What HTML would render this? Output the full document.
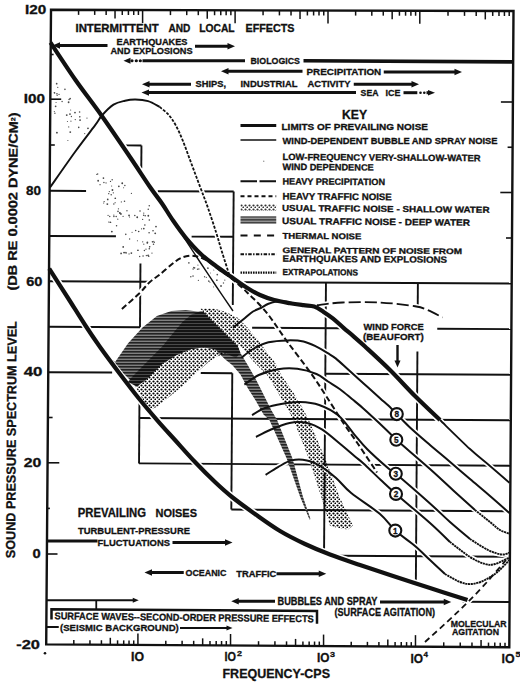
<!DOCTYPE html>
<html><head><meta charset="utf-8"><style>
html,body{margin:0;padding:0;background:#fff;}
svg{display:block;}
text{font-family:"Liberation Sans",sans-serif;font-weight:bold;fill:#111;stroke:#111;stroke-width:0.3px;}
</style></head><body>
<svg width="520" height="687" viewBox="0 0 520 687">
<defs>
<pattern id="stip" patternUnits="userSpaceOnUse" width="4" height="4"><circle cx="1.5" cy="1.5" r="1.1" fill="#000"/><circle cx="3.5" cy="3.5" r="1.1" fill="#000"/></pattern>
<pattern id="hatch" patternUnits="userSpaceOnUse" width="4" height="3"><rect width="4" height="3" fill="#808080"/><rect width="4" height="1.6" fill="#222"/></pattern>
<pattern id="blk" patternUnits="userSpaceOnUse" width="4" height="3"><rect width="4" height="3" fill="#141414"/><rect width="4" height="1" y="2" fill="#4a4a4a"/></pattern>
</defs>
<rect width="520" height="687" fill="#fff"/>
<circle cx="64.95" cy="89.35" r="0.81" fill="#4a4a4a"/>
<circle cx="54.9" cy="113.22" r="0.7" fill="#4a4a4a"/>
<circle cx="54.32" cy="111.46" r="0.56" fill="#4a4a4a"/>
<circle cx="55.63" cy="106.32" r="0.88" fill="#4a4a4a"/>
<circle cx="56.95" cy="93.84" r="0.8" fill="#4a4a4a"/>
<circle cx="67.87" cy="140.53" r="0.57" fill="#4a4a4a"/>
<circle cx="57.77" cy="87.3" r="0.67" fill="#4a4a4a"/>
<circle cx="75.26" cy="119.61" r="0.7" fill="#4a4a4a"/>
<circle cx="54.38" cy="92.77" r="0.82" fill="#4a4a4a"/>
<circle cx="69.1" cy="99.48" r="0.78" fill="#4a4a4a"/>
<circle cx="70.13" cy="98.59" r="0.87" fill="#4a4a4a"/>
<circle cx="74.98" cy="112.56" r="0.9" fill="#4a4a4a"/>
<circle cx="68.72" cy="126.94" r="0.61" fill="#4a4a4a"/>
<circle cx="78.73" cy="127.4" r="0.78" fill="#4a4a4a"/>
<circle cx="79.81" cy="116.85" r="0.78" fill="#4a4a4a"/>
<circle cx="70.25" cy="132.08" r="0.93" fill="#4a4a4a"/>
<circle cx="70.96" cy="121.18" r="0.57" fill="#4a4a4a"/>
<circle cx="80.06" cy="120.12" r="0.95" fill="#4a4a4a"/>
<circle cx="67.43" cy="121.46" r="0.56" fill="#4a4a4a"/>
<circle cx="56.68" cy="83.66" r="0.86" fill="#4a4a4a"/>
<circle cx="57.17" cy="95.35" r="0.71" fill="#4a4a4a"/>
<circle cx="69.97" cy="114.07" r="0.9" fill="#4a4a4a"/>
<circle cx="84.77" cy="133.57" r="0.66" fill="#4a4a4a"/>
<circle cx="68.61" cy="102.24" r="0.9" fill="#4a4a4a"/>
<circle cx="59.05" cy="94.38" r="0.64" fill="#4a4a4a"/>
<circle cx="71.4" cy="116.53" r="0.66" fill="#4a4a4a"/>
<circle cx="66.77" cy="115.11" r="0.93" fill="#4a4a4a"/>
<circle cx="79.62" cy="111.96" r="0.8" fill="#4a4a4a"/>
<circle cx="87.98" cy="128.36" r="0.9" fill="#4a4a4a"/>
<circle cx="54.69" cy="92.94" r="0.61" fill="#4a4a4a"/>
<circle cx="56.06" cy="102.54" r="0.56" fill="#4a4a4a"/>
<circle cx="86.97" cy="118.07" r="0.61" fill="#4a4a4a"/>
<circle cx="62.09" cy="101.54" r="0.7" fill="#4a4a4a"/>
<circle cx="56.91" cy="132.63" r="0.95" fill="#4a4a4a"/>
<circle cx="70.64" cy="110" r="0.58" fill="#4a4a4a"/>
<circle cx="118.84" cy="186.37" r="0.86" fill="#444"/>
<circle cx="129.62" cy="239" r="0.68" fill="#444"/>
<circle cx="147.4" cy="242.38" r="0.85" fill="#444"/>
<circle cx="109.74" cy="216.52" r="0.69" fill="#444"/>
<circle cx="96.88" cy="174.4" r="0.66" fill="#444"/>
<circle cx="111.85" cy="231.56" r="0.93" fill="#444"/>
<circle cx="124.07" cy="252.58" r="0.95" fill="#444"/>
<circle cx="109.33" cy="191.51" r="0.63" fill="#444"/>
<circle cx="153.52" cy="244.28" r="0.74" fill="#444"/>
<circle cx="137.44" cy="240.77" r="0.58" fill="#444"/>
<circle cx="137.94" cy="250.24" r="0.86" fill="#444"/>
<circle cx="143.76" cy="213.11" r="0.62" fill="#444"/>
<circle cx="147.05" cy="255.56" r="0.71" fill="#444"/>
<circle cx="121.09" cy="253.42" r="0.84" fill="#444"/>
<circle cx="106.05" cy="182.93" r="0.61" fill="#444"/>
<circle cx="153.82" cy="241.36" r="0.61" fill="#444"/>
<circle cx="148.72" cy="256.31" r="0.81" fill="#444"/>
<circle cx="117.78" cy="219.18" r="0.6" fill="#444"/>
<circle cx="137.23" cy="217.29" r="0.92" fill="#444"/>
<circle cx="123.2" cy="246.97" r="0.88" fill="#444"/>
<circle cx="108.72" cy="193.66" r="0.67" fill="#444"/>
<circle cx="110.64" cy="222.43" r="0.65" fill="#444"/>
<circle cx="122.24" cy="183.27" r="0.91" fill="#444"/>
<circle cx="118" cy="211.4" r="0.78" fill="#444"/>
<circle cx="129.57" cy="217.02" r="0.56" fill="#444"/>
<circle cx="123.61" cy="187.75" r="0.55" fill="#444"/>
<circle cx="125.78" cy="234.37" r="0.77" fill="#444"/>
<circle cx="116.19" cy="216.58" r="0.77" fill="#444"/>
<circle cx="131.42" cy="193.37" r="0.66" fill="#444"/>
<circle cx="145.2" cy="215.66" r="0.77" fill="#444"/>
<circle cx="144.4" cy="250.47" r="0.73" fill="#444"/>
<circle cx="134.81" cy="215.48" r="0.75" fill="#444"/>
<circle cx="140.03" cy="210.9" r="0.76" fill="#444"/>
<circle cx="126.07" cy="252.97" r="0.83" fill="#444"/>
<circle cx="151.97" cy="253.03" r="0.65" fill="#444"/>
<circle cx="131.37" cy="253.12" r="0.89" fill="#444"/>
<circle cx="103.91" cy="182.46" r="0.73" fill="#444"/>
<circle cx="145.96" cy="249.14" r="0.61" fill="#444"/>
<circle cx="141.55" cy="228.78" r="0.61" fill="#444"/>
<circle cx="120.89" cy="213.9" r="0.95" fill="#444"/>
<circle cx="123.05" cy="216.34" r="0.69" fill="#444"/>
<circle cx="107.72" cy="199.39" r="0.84" fill="#444"/>
<circle cx="116.55" cy="225.66" r="0.75" fill="#444"/>
<circle cx="146.24" cy="255.57" r="0.59" fill="#444"/>
<circle cx="154.24" cy="242.43" r="0.65" fill="#444"/>
<circle cx="132.09" cy="232.24" r="0.59" fill="#444"/>
<circle cx="155.99" cy="226.56" r="0.87" fill="#444"/>
<circle cx="124.5" cy="201.17" r="0.77" fill="#444"/>
<circle cx="110.5" cy="181.41" r="0.61" fill="#444"/>
<circle cx="115.28" cy="198.23" r="0.85" fill="#444"/>
<circle cx="113.85" cy="215.01" r="0.62" fill="#444"/>
<circle cx="142.65" cy="219.39" r="0.63" fill="#444"/>
<circle cx="125.86" cy="252.38" r="0.59" fill="#444"/>
<circle cx="148.23" cy="209.17" r="0.75" fill="#444"/>
<circle cx="149.25" cy="205.81" r="0.75" fill="#444"/>
<circle cx="139.7" cy="256.49" r="0.69" fill="#444"/>
<circle cx="149.1" cy="232.78" r="0.8" fill="#444"/>
<circle cx="121.31" cy="201.89" r="0.57" fill="#444"/>
<circle cx="103.44" cy="178.08" r="0.85" fill="#444"/>
<circle cx="111.61" cy="186.04" r="0.58" fill="#444"/>
<circle cx="149.68" cy="246.87" r="0.82" fill="#444"/>
<circle cx="113.33" cy="192.83" r="0.67" fill="#444"/>
<circle cx="124.86" cy="185.55" r="0.73" fill="#444"/>
<circle cx="115.12" cy="202.67" r="0.55" fill="#444"/>
<circle cx="119.81" cy="212.82" r="0.75" fill="#444"/>
<circle cx="108.06" cy="215.41" r="0.55" fill="#444"/>
<circle cx="112.17" cy="179.72" r="0.71" fill="#444"/>
<circle cx="97.71" cy="173.93" r="0.67" fill="#444"/>
<circle cx="110.13" cy="222.36" r="0.76" fill="#444"/>
<circle cx="143.79" cy="228.55" r="0.84" fill="#444"/>
<circle cx="149.29" cy="248.71" r="0.8" fill="#444"/>
<circle cx="142.7" cy="241.85" r="0.61" fill="#444"/>
<circle cx="129.04" cy="215.38" r="0.88" fill="#444"/>
<circle cx="147.3" cy="243.07" r="0.78" fill="#444"/>
<circle cx="153.03" cy="230.73" r="0.83" fill="#444"/>
<circle cx="103.65" cy="203.02" r="0.59" fill="#444"/>
<circle cx="149.33" cy="220.03" r="0.8" fill="#444"/>
<circle cx="135.7" cy="230.54" r="0.75" fill="#444"/>
<circle cx="143.64" cy="215.26" r="0.76" fill="#444"/>
<circle cx="143.09" cy="255.91" r="0.75" fill="#444"/>
<circle cx="119.87" cy="213.19" r="0.82" fill="#444"/>
<circle cx="144.85" cy="225.06" r="0.81" fill="#444"/>
<circle cx="100.04" cy="184.68" r="0.65" fill="#444"/>
<circle cx="138.68" cy="231.53" r="0.82" fill="#444"/>
<circle cx="113.91" cy="216.42" r="0.74" fill="#444"/>
<circle cx="148.29" cy="255.26" r="0.73" fill="#444"/>
<circle cx="112.46" cy="190.05" r="0.93" fill="#444"/>
<circle cx="108.7" cy="222.01" r="0.61" fill="#444"/>
<circle cx="129.06" cy="253.94" r="0.6" fill="#444"/>
<circle cx="148.31" cy="215.75" r="0.9" fill="#444"/>
<circle cx="126.96" cy="210.77" r="0.67" fill="#444"/>
<circle cx="104.15" cy="201.58" r="0.68" fill="#444"/>
<circle cx="143.8" cy="244.16" r="0.6" fill="#444"/>
<circle cx="155.22" cy="233.32" r="0.91" fill="#444"/>
<circle cx="113.84" cy="204.01" r="0.71" fill="#444"/>
<circle cx="118.45" cy="208.81" r="0.66" fill="#444"/>
<circle cx="98.14" cy="180.75" r="0.88" fill="#444"/>
<circle cx="111.21" cy="194.85" r="0.75" fill="#444"/>
<circle cx="107.34" cy="204.11" r="0.93" fill="#444"/>
<circle cx="152.48" cy="241.83" r="0.8" fill="#444"/>
<circle cx="209.97" cy="282.15" r="0.57" fill="#555"/>
<circle cx="217.29" cy="274.62" r="0.85" fill="#555"/>
<circle cx="213.78" cy="270.01" r="0.57" fill="#555"/>
<circle cx="206.89" cy="271.62" r="0.67" fill="#555"/>
<circle cx="198.41" cy="280.37" r="0.67" fill="#555"/>
<circle cx="210.29" cy="273.04" r="0.62" fill="#555"/>
<circle cx="194.47" cy="267.82" r="0.91" fill="#555"/>
<circle cx="207.88" cy="268.16" r="0.91" fill="#555"/>
<circle cx="193.58" cy="267.39" r="0.59" fill="#555"/>
<circle cx="197.57" cy="269.23" r="0.78" fill="#555"/>
<circle cx="223.49" cy="282.99" r="0.72" fill="#555"/>
<circle cx="204.56" cy="276.68" r="0.7" fill="#555"/>
<circle cx="193.03" cy="276.1" r="0.8" fill="#555"/>
<circle cx="198.84" cy="268.96" r="0.71" fill="#555"/>
<circle cx="188.87" cy="262.9" r="0.83" fill="#555"/>
<circle cx="221.02" cy="285.95" r="0.94" fill="#555"/>
<circle cx="197.94" cy="265.05" r="0.61" fill="#555"/>
<circle cx="208.89" cy="281.1" r="0.93" fill="#555"/>
<circle cx="216.87" cy="280.13" r="0.86" fill="#555"/>
<circle cx="206.29" cy="277.44" r="0.57" fill="#555"/>
<circle cx="224.8" cy="280.07" r="0.67" fill="#555"/>
<circle cx="193.12" cy="269.05" r="0.8" fill="#555"/>
<circle cx="190.81" cy="276.68" r="0.78" fill="#555"/>
<circle cx="203.52" cy="268.26" r="0.79" fill="#555"/>
<circle cx="213.78" cy="286.75" r="0.74" fill="#555"/>
<line x1="125.42" y1="145.37" x2="141.46" y2="145.45" stroke="#111" stroke-width="1.9" />
<line x1="141.27" y1="168.3" x2="141.46" y2="145.45" stroke="#111" stroke-width="1.9" />
<line x1="49.4" y1="190.8" x2="86.07" y2="190.94" stroke="#111" stroke-width="1.9" />
<line x1="157.74" y1="191.2" x2="233.66" y2="191.48" stroke="#111" stroke-width="1.9" />
<line x1="49" y1="236" x2="115.94" y2="236.29" stroke="#111" stroke-width="1.9" />
<line x1="191.63" y1="236.62" x2="233.3" y2="236.8" stroke="#111" stroke-width="1.9" />
<line x1="48.6" y1="281.2" x2="148.66" y2="281.7" stroke="#111" stroke-width="1.9" />
<line x1="232.94" y1="282.12" x2="511.7" y2="283.5" stroke="#111" stroke-width="1.9" />
<line x1="48.25" y1="326.7" x2="139.98" y2="327.19" stroke="#111" stroke-width="1.9" />
<line x1="252.15" y1="327.78" x2="340.35" y2="328.25" stroke="#111" stroke-width="1.9" />
<line x1="437.27" y1="328.76" x2="511.4" y2="329.15" stroke="#111" stroke-width="1.9" />
<line x1="47.9" y1="372.2" x2="112.12" y2="372.56" stroke="#111" stroke-width="1.9" />
<line x1="200.78" y1="373.06" x2="232.28" y2="373.24" stroke="#111" stroke-width="1.9" />
<line x1="325.32" y1="373.76" x2="511.1" y2="374.8" stroke="#111" stroke-width="1.9" />
<line x1="139.34" y1="418.06" x2="510.8" y2="420.3" stroke="#111" stroke-width="1.9" />
<line x1="139.04" y1="463.4" x2="510.5" y2="465.8" stroke="#111" stroke-width="1.9" />
<line x1="231.32" y1="509.56" x2="510.2" y2="511.3" stroke="#111" stroke-width="1.9" />
<line x1="337.84" y1="555.76" x2="509.9" y2="556.8" stroke="#111" stroke-width="1.9" />
<line x1="462.68" y1="601.72" x2="509.6" y2="602" stroke="#111" stroke-width="1.9" />
<line x1="139.98" y1="327.19" x2="140.47" y2="263.56" stroke="#111" stroke-width="1.9" />
<line x1="139.04" y1="463.4" x2="139.45" y2="402.19" stroke="#111" stroke-width="1.9" />
<line x1="232.78" y1="304.9" x2="233.66" y2="191.48" stroke="#111" stroke-width="1.9" />
<line x1="231.32" y1="509.56" x2="232.28" y2="373.24" stroke="#111" stroke-width="1.9" />
<line x1="324.07" y1="551.13" x2="325.96" y2="282.58" stroke="#111" stroke-width="1.9" />
<line x1="417.73" y1="305.85" x2="417.88" y2="283.04" stroke="#111" stroke-width="1.9" />
<line x1="415.86" y1="583.36" x2="417.42" y2="351.47" stroke="#111" stroke-width="1.9" />
<path d="M50.5,42.6 C54.67,48.83 67,67.85 75.5,80 C84,92.15 92.42,102.67 101.5,115.5 C110.58,128.33 121.92,145.08 130,157 C138.08,168.92 144.67,179.25 150,187 C155.33,194.75 158.17,197.92 162,203.5 C165.83,209.08 169.1,214.87 173,220.5 C176.9,226.13 180.77,231.72 185.4,237.3 C190.03,242.88 195.67,249.18 200.8,254 C205.93,258.82 211.08,262.37 216.2,266.2 C221.32,270.03 226.38,273.42 231.5,277 C236.62,280.58 242.15,284.7 246.9,287.7 C251.65,290.7 255.45,292.95 260,295 C264.55,297.05 269.2,298.63 274.2,300 C279.2,301.37 285.12,302.33 290,303.2 C294.88,304.07 299.47,304.65 303.5,305.2 C307.53,305.75 310.85,305.38 314.2,306.5 C317.55,307.62 320.45,309.88 323.6,311.9 C326.75,313.92 329.73,315.9 333.1,318.6 C336.47,321.3 340.43,325.18 343.8,328.1 C347.17,331.02 349.77,333.03 353.3,336.1 C356.83,339.17 358.88,340.85 365,346.5 C371.12,352.15 381.67,361.75 390,370 C398.33,378.25 406.67,387.67 415,396 C423.33,404.33 435.83,416 440,420" fill="none" stroke="#fff" stroke-width="7.4"/>
<path d="M440,420 C445,424.83 461.67,441.33 470,449 C478.33,456.67 483.43,460.38 490,466 C496.57,471.62 506.17,479.92 509.4,482.7" fill="none" stroke="#fff" stroke-width="5"/>
<path d="M49.2,268.7 C52.33,273.58 61.97,288.53 68,298 C74.03,307.47 80.07,317.33 85.4,325.5 C90.73,333.67 94.37,339.08 100,347 C105.63,354.92 112.78,364.5 119.2,373 C125.62,381.5 132.08,390.03 138.5,398 C144.92,405.97 151.62,413.8 157.7,420.8 C163.78,427.8 168.78,433.13 175,440 C181.22,446.87 188.33,455 195,462 C201.67,469 208.83,476.17 215,482 C221.17,487.83 225.33,491.67 232,497 C238.67,502.33 247,508.33 255,514 C263,519.67 271.67,526 280,531 C288.33,536 296.67,540.08 305,544 C313.33,547.92 320.83,551 330,554.5 C339.17,558 350,561.58 360,565 C370,568.42 378.33,571.17 390,575 C401.67,578.83 417.08,583.83 430,588 C442.92,592.17 461.25,598 467.5,600" fill="none" stroke="#fff" stroke-width="7.4"/>
<path d="M50,187.5 C54.17,181.58 67.5,162.35 75,152 C82.5,141.65 90.52,131.48 95,125.4 C99.48,119.32 98.82,118.97 101.9,115.5 C104.98,112.03 109.65,107.07 113.5,104.6 C117.35,102.13 121.35,101.55 125,100.7 C128.65,99.85 131.55,99.42 135.4,99.5 C139.25,99.58 144.07,99.97 148.1,101.2 C152.13,102.43 157.68,105.95 159.6,106.9" fill="none" stroke="#fff" stroke-width="5.1"/>
<path d="M159.6,106.9 C161.13,108.25 166.1,111.92 168.8,115 C171.5,118.08 173.48,121.17 175.8,125.4 C178.12,129.63 180.4,134.83 182.7,140.4 C185,145.97 187.3,152.65 189.6,158.8 C191.9,164.95 194.18,171.13 196.5,177.3 C198.82,183.47 201.58,190.68 203.5,195.8 C205.42,200.92 205.92,201.97 208,208 C210.08,214.03 213.67,224.67 216,232 C218.33,239.33 219.83,245 222,252 C224.17,259 227.83,270.33 229,274" fill="none" stroke="#fff" stroke-width="5"/>
<path d="M183,236 C185.83,240.33 194.5,253.67 200,262 C205.5,270.33 210.5,277.83 216,286 C221.5,294.17 230.17,306.83 233,311" fill="none" stroke="#fff" stroke-width="4.6"/>
<path d="M121.9,309 C124.78,306.42 134.58,297.97 139.2,293.5 C143.82,289.03 146.13,285.38 149.6,282.2 C153.07,279.02 156.25,277.43 160,274.4 C163.75,271.37 168.63,266.73 172.1,264 C175.57,261.27 177.92,259.38 180.8,258 C183.68,256.62 186.87,256 189.4,255.7 C191.93,255.4 193.73,255.73 196,256.2 C198.27,256.67 200.92,257.62 203,258.5 C205.08,259.38 206.3,260 208.5,261.5 C210.7,263 212.37,264.67 216.2,267.5 C220.03,270.33 226.9,274.88 231.5,278.5 C236.1,282.12 240.72,286.38 243.8,289.2 C246.88,292.02 247.63,293.1 250,295.4 C252.37,297.7 254.67,299.4 258,303 C261.33,306.6 265.05,310.45 270,317 C274.95,323.55 280.9,332.97 287.7,342.3 C294.5,351.63 304.38,364.02 310.8,373 C317.22,381.98 320.63,387.67 326.2,396.2 C331.77,404.73 338.95,416.32 344.2,424.2 C349.45,432.08 352.23,435.45 357.7,443.5 C363.17,451.55 373.78,467.67 377,472.5" fill="none" stroke="#fff" stroke-width="5.2"/>
<path d="M316.9,305.2 C321.17,304.75 331.98,302.95 342.5,302.5 C353.02,302.05 367.92,301.88 380,302.5 C392.08,303.12 407.08,305 415,306.25 C422.92,307.5 422.92,308.12 427.5,310 C432.08,311.88 440,316.25 442.5,317.5" fill="none" stroke="#fff" stroke-width="5"/>
<path d="M425,642 C428.67,638.67 440,628.5 447,622 C454,615.5 460.33,609.67 467,603 C473.67,596.33 480.5,589.17 487,582 C493.5,574.83 502.83,563.67 506,560" fill="none" stroke="#fff" stroke-width="5"/>
<path d="M233,327.7 C235,326.08 241.67,320.7 245,318 C248.33,315.3 250.37,313.17 253,311.5 C255.63,309.83 258.22,309.28 260.8,308 C263.38,306.72 265.3,304.97 268.5,303.8 C271.7,302.63 276.08,301.13 280,301 C283.92,300.87 290,302.67 292,303" fill="none" stroke="#fff" stroke-width="5.2"/>
<path d="M241.5,357.7 C243.42,356.25 248.5,351.57 253,349 C257.5,346.43 262.72,343.73 268.5,342.3 C274.28,340.87 281.87,340.53 287.7,340.4 C293.53,340.27 298.63,340.42 303.5,341.5 C308.37,342.58 312.87,344.95 316.9,346.9 C320.93,348.85 324.52,351.25 327.7,353.2 C330.88,355.15 332.5,355.8 336,358.6 C339.5,361.4 343.87,365.65 348.7,370 C353.53,374.35 359.78,380 365,384.7 C370.22,389.4 375.62,394.25 380,398.2 C384.38,402.15 388.5,405.75 391.3,408.4 C394.1,411.05 393.68,410.92 396.8,414.1 C399.92,417.28 404.47,422.35 410,427.5 C415.53,432.65 423.5,439.42 430,445 C436.5,450.58 442.33,455.33 449,461 C455.67,466.67 463.17,473.17 470,479 C476.83,484.83 483.43,490.33 490,496 C496.57,501.67 506.17,510.17 509.4,513" fill="none" stroke="#fff" stroke-width="5.2"/>
<path d="M244.4,384.6 C246.8,383 253.2,377.57 258.8,375 C264.4,372.43 271.58,370.23 278,369.2 C284.42,368.17 290.88,368 297.3,368.8 C303.72,369.6 311.38,371.88 316.5,374 C321.62,376.12 324.08,378.97 328,381.5 C331.92,384.03 336,386.28 340,389.2 C344,392.12 348.12,395.8 352,399 C355.88,402.2 359.13,404.73 363.3,408.4 C367.47,412.07 372.33,416.62 377,421 C381.67,425.38 388.08,431.57 391.3,434.7 C394.52,437.83 389.85,434.08 396.3,439.8 C402.75,445.52 420.22,460.3 430,469 C439.78,477.7 447.5,485.17 455,492 C462.5,498.83 471.67,507 475,510" fill="none" stroke="#fff" stroke-width="5.2"/>
<path d="M475,510 C477.5,512 485.83,518.67 490,522 C494.17,525.33 496.77,528.05 500,530 C503.23,531.95 507.83,533.08 509.4,533.7" fill="none" stroke="#fff" stroke-width="5.1"/>
<path d="M252,415 C254.17,413.83 259.92,409.88 265,408 C270.08,406.12 276.67,404.75 282.5,403.75 C288.33,402.75 293.88,401.79 300,402 C306.12,402.21 312.78,402.73 319.2,405 C325.62,407.27 332.73,410.8 338.5,415.6 C344.27,420.4 349,428.2 353.8,433.8 C358.6,439.4 361.52,443.42 367.3,449.2 C373.08,454.98 383.75,464.4 388.5,468.5 C393.25,472.6 388.88,467.97 395.8,473.8 C402.72,479.63 420.97,495.47 430,503.5 C439.03,511.53 443.33,516.08 450,522 C456.67,527.92 466.67,536.17 470,539" fill="none" stroke="#fff" stroke-width="5.2"/>
<path d="M470,539 C473,540.83 482.7,547.42 488,550 C493.3,552.58 498.23,554.07 501.8,554.5 C505.37,554.93 508.13,552.92 509.4,552.6" fill="none" stroke="#fff" stroke-width="5.1"/>
<path d="M256,437 C258.33,435.83 264.4,432.35 270,430 C275.6,427.65 283.45,424.08 289.6,422.9 C295.75,421.72 301.45,421.78 306.9,422.9 C312.35,424.02 316.53,425.92 322.3,429.6 C328.07,433.28 336.05,440.52 341.5,445 C346.95,449.48 351.33,453.42 355,456.5 C358.67,459.58 359.2,459.58 363.5,463.5 C367.8,467.42 375.38,474.93 380.8,480 C386.22,485.07 387.8,486.73 396,493.9 C404.2,501.07 421,514.98 430,523 C439,531.02 446.67,538.83 450,542" fill="none" stroke="#fff" stroke-width="5.2"/>
<path d="M450,542 C453.33,544.5 464.17,553.33 470,557 C475.83,560.67 480.83,562.83 485,564 C489.17,565.17 490.93,565.08 495,564 C499.07,562.92 507,558.58 509.4,557.5" fill="none" stroke="#fff" stroke-width="5.1"/>
<path d="M265.6,474.8 C267.67,473.52 273.68,469.5 278,467.1 C282.32,464.7 286.68,461.52 291.5,460.4 C296.32,459.28 302.08,459.43 306.9,460.4 C311.72,461.37 315.58,463.32 320.4,466.2 C325.22,469.08 330.67,473.22 335.8,477.7 C340.93,482.18 343.83,487.05 351.2,493.1 C358.57,499.15 372.65,507.75 380,514 C387.35,520.25 389.47,525.27 395.3,530.6 C401.13,535.93 409.22,541.1 415,546 C420.78,550.9 425,555.33 430,560 C435,564.67 442.5,571.67 445,574" fill="none" stroke="#fff" stroke-width="5.2"/>
<path d="M445,574 C447.5,575.33 455.5,580.33 460,582 C464.5,583.67 467.83,584.33 472,584 C476.17,583.67 480.67,582.08 485,580 C489.33,577.92 493.93,574.83 498,571.5 C502.07,568.17 507.5,561.92 509.4,560" fill="none" stroke="#fff" stroke-width="5.1"/>
<polygon points="51,9.8 513.5,11 509.3,647.2 46.2,644.4" fill="none" stroke="#111" stroke-width="2.4"/>
<line x1="78.57" y1="9.87" x2="78.57" y2="14.87" stroke="#111" stroke-width="1.5" />
<line x1="73.81" y1="644.57" x2="73.81" y2="640.07" stroke="#111" stroke-width="1.5" />
<line x1="94.7" y1="9.91" x2="94.7" y2="14.91" stroke="#111" stroke-width="1.5" />
<line x1="89.96" y1="644.67" x2="89.96" y2="640.17" stroke="#111" stroke-width="1.5" />
<line x1="106.15" y1="9.94" x2="106.15" y2="14.94" stroke="#111" stroke-width="1.5" />
<line x1="101.42" y1="644.74" x2="101.42" y2="640.24" stroke="#111" stroke-width="1.5" />
<line x1="115.03" y1="9.97" x2="115.03" y2="18.47" stroke="#111" stroke-width="1.5" />
<line x1="110.31" y1="644.79" x2="110.31" y2="637.79" stroke="#111" stroke-width="1.5" />
<line x1="122.28" y1="9.99" x2="122.28" y2="14.99" stroke="#111" stroke-width="1.5" />
<line x1="117.57" y1="644.84" x2="117.57" y2="640.34" stroke="#111" stroke-width="1.5" />
<line x1="128.41" y1="10" x2="128.41" y2="15" stroke="#111" stroke-width="1.5" />
<line x1="123.71" y1="644.87" x2="123.71" y2="640.37" stroke="#111" stroke-width="1.5" />
<line x1="133.72" y1="10.02" x2="133.72" y2="15.02" stroke="#111" stroke-width="1.5" />
<line x1="129.03" y1="644.91" x2="129.03" y2="640.41" stroke="#111" stroke-width="1.5" />
<line x1="138.41" y1="10.03" x2="138.41" y2="15.03" stroke="#111" stroke-width="1.5" />
<line x1="133.72" y1="644.93" x2="133.72" y2="640.43" stroke="#111" stroke-width="1.5" />
<line x1="142.6" y1="10.04" x2="142.6" y2="23.04" stroke="#111" stroke-width="1.5" />
<line x1="137.92" y1="644.96" x2="137.92" y2="633.46" stroke="#111" stroke-width="1.5" />
<line x1="170.45" y1="10.11" x2="170.45" y2="15.11" stroke="#111" stroke-width="1.5" />
<line x1="165.8" y1="645.13" x2="165.8" y2="640.63" stroke="#111" stroke-width="1.5" />
<line x1="186.73" y1="10.15" x2="186.73" y2="15.15" stroke="#111" stroke-width="1.5" />
<line x1="182.11" y1="645.23" x2="182.11" y2="640.73" stroke="#111" stroke-width="1.5" />
<line x1="198.29" y1="10.18" x2="198.29" y2="15.18" stroke="#111" stroke-width="1.5" />
<line x1="193.68" y1="645.3" x2="193.68" y2="640.8" stroke="#111" stroke-width="1.5" />
<line x1="207.25" y1="10.21" x2="207.25" y2="18.71" stroke="#111" stroke-width="1.5" />
<line x1="202.66" y1="645.35" x2="202.66" y2="638.35" stroke="#111" stroke-width="1.5" />
<line x1="214.58" y1="10.23" x2="214.58" y2="15.23" stroke="#111" stroke-width="1.5" />
<line x1="209.99" y1="645.4" x2="209.99" y2="640.9" stroke="#111" stroke-width="1.5" />
<line x1="220.77" y1="10.24" x2="220.77" y2="15.24" stroke="#111" stroke-width="1.5" />
<line x1="216.19" y1="645.43" x2="216.19" y2="640.93" stroke="#111" stroke-width="1.5" />
<line x1="226.14" y1="10.26" x2="226.14" y2="15.26" stroke="#111" stroke-width="1.5" />
<line x1="221.56" y1="645.47" x2="221.56" y2="640.97" stroke="#111" stroke-width="1.5" />
<line x1="230.87" y1="10.27" x2="230.87" y2="15.27" stroke="#111" stroke-width="1.5" />
<line x1="226.3" y1="645.49" x2="226.3" y2="640.99" stroke="#111" stroke-width="1.5" />
<line x1="235.1" y1="10.28" x2="235.1" y2="23.28" stroke="#111" stroke-width="1.5" />
<line x1="230.54" y1="645.52" x2="230.54" y2="634.02" stroke="#111" stroke-width="1.5" />
<line x1="263.07" y1="10.35" x2="263.07" y2="15.35" stroke="#111" stroke-width="1.5" />
<line x1="258.54" y1="645.69" x2="258.54" y2="641.19" stroke="#111" stroke-width="1.5" />
<line x1="279.42" y1="10.39" x2="279.42" y2="15.39" stroke="#111" stroke-width="1.5" />
<line x1="274.92" y1="645.79" x2="274.92" y2="641.29" stroke="#111" stroke-width="1.5" />
<line x1="291.03" y1="10.42" x2="291.03" y2="15.42" stroke="#111" stroke-width="1.5" />
<line x1="286.54" y1="645.86" x2="286.54" y2="641.36" stroke="#111" stroke-width="1.5" />
<line x1="300.03" y1="10.45" x2="300.03" y2="18.95" stroke="#111" stroke-width="1.5" />
<line x1="295.56" y1="645.91" x2="295.56" y2="638.91" stroke="#111" stroke-width="1.5" />
<line x1="307.39" y1="10.47" x2="307.39" y2="15.47" stroke="#111" stroke-width="1.5" />
<line x1="302.92" y1="645.96" x2="302.92" y2="641.46" stroke="#111" stroke-width="1.5" />
<line x1="313.61" y1="10.48" x2="313.61" y2="15.48" stroke="#111" stroke-width="1.5" />
<line x1="309.15" y1="645.99" x2="309.15" y2="641.49" stroke="#111" stroke-width="1.5" />
<line x1="319" y1="10.5" x2="319" y2="15.5" stroke="#111" stroke-width="1.5" />
<line x1="314.55" y1="646.03" x2="314.55" y2="641.53" stroke="#111" stroke-width="1.5" />
<line x1="323.75" y1="10.51" x2="323.75" y2="15.51" stroke="#111" stroke-width="1.5" />
<line x1="319.3" y1="646.05" x2="319.3" y2="641.55" stroke="#111" stroke-width="1.5" />
<line x1="328" y1="10.52" x2="328" y2="23.52" stroke="#111" stroke-width="1.5" />
<line x1="323.56" y1="646.08" x2="323.56" y2="634.58" stroke="#111" stroke-width="1.5" />
<line x1="355.63" y1="10.59" x2="355.63" y2="15.59" stroke="#111" stroke-width="1.5" />
<line x1="351.23" y1="646.25" x2="351.23" y2="641.75" stroke="#111" stroke-width="1.5" />
<line x1="371.8" y1="10.63" x2="371.8" y2="15.63" stroke="#111" stroke-width="1.5" />
<line x1="367.42" y1="646.35" x2="367.42" y2="641.85" stroke="#111" stroke-width="1.5" />
<line x1="383.27" y1="10.66" x2="383.27" y2="15.66" stroke="#111" stroke-width="1.5" />
<line x1="378.9" y1="646.42" x2="378.9" y2="641.92" stroke="#111" stroke-width="1.5" />
<line x1="392.17" y1="10.69" x2="392.17" y2="19.19" stroke="#111" stroke-width="1.5" />
<line x1="387.81" y1="646.47" x2="387.81" y2="639.47" stroke="#111" stroke-width="1.5" />
<line x1="399.43" y1="10.71" x2="399.43" y2="15.71" stroke="#111" stroke-width="1.5" />
<line x1="395.09" y1="646.52" x2="395.09" y2="642.02" stroke="#111" stroke-width="1.5" />
<line x1="405.58" y1="10.72" x2="405.58" y2="15.72" stroke="#111" stroke-width="1.5" />
<line x1="401.24" y1="646.55" x2="401.24" y2="642.05" stroke="#111" stroke-width="1.5" />
<line x1="410.9" y1="10.74" x2="410.9" y2="15.74" stroke="#111" stroke-width="1.5" />
<line x1="406.57" y1="646.59" x2="406.57" y2="642.09" stroke="#111" stroke-width="1.5" />
<line x1="415.6" y1="10.75" x2="415.6" y2="15.75" stroke="#111" stroke-width="1.5" />
<line x1="411.27" y1="646.61" x2="411.27" y2="642.11" stroke="#111" stroke-width="1.5" />
<line x1="419.8" y1="10.76" x2="419.8" y2="23.76" stroke="#111" stroke-width="1.5" />
<line x1="415.48" y1="646.64" x2="415.48" y2="635.14" stroke="#111" stroke-width="1.5" />
<line x1="448.01" y1="10.83" x2="448.01" y2="15.83" stroke="#111" stroke-width="1.5" />
<line x1="443.72" y1="646.81" x2="443.72" y2="642.31" stroke="#111" stroke-width="1.5" />
<line x1="464.51" y1="10.87" x2="464.51" y2="15.87" stroke="#111" stroke-width="1.5" />
<line x1="460.24" y1="646.91" x2="460.24" y2="642.41" stroke="#111" stroke-width="1.5" />
<line x1="476.21" y1="10.9" x2="476.21" y2="15.9" stroke="#111" stroke-width="1.5" />
<line x1="471.97" y1="646.98" x2="471.97" y2="642.48" stroke="#111" stroke-width="1.5" />
<line x1="485.29" y1="10.93" x2="485.29" y2="19.43" stroke="#111" stroke-width="1.5" />
<line x1="481.06" y1="647.03" x2="481.06" y2="640.03" stroke="#111" stroke-width="1.5" />
<line x1="492.71" y1="10.95" x2="492.71" y2="15.95" stroke="#111" stroke-width="1.5" />
<line x1="488.49" y1="647.08" x2="488.49" y2="642.58" stroke="#111" stroke-width="1.5" />
<line x1="498.99" y1="10.96" x2="498.99" y2="15.96" stroke="#111" stroke-width="1.5" />
<line x1="494.77" y1="647.11" x2="494.77" y2="642.61" stroke="#111" stroke-width="1.5" />
<line x1="504.42" y1="10.98" x2="504.42" y2="15.98" stroke="#111" stroke-width="1.5" />
<line x1="500.21" y1="647.15" x2="500.21" y2="642.65" stroke="#111" stroke-width="1.5" />
<line x1="509.21" y1="10.99" x2="509.21" y2="15.99" stroke="#111" stroke-width="1.5" />
<line x1="505.01" y1="647.17" x2="505.01" y2="642.67" stroke="#111" stroke-width="1.5" />
<line x1="50.2" y1="99.2" x2="61.2" y2="99.2" stroke="#111" stroke-width="1.6" />
<line x1="49.8" y1="145" x2="54.8" y2="145" stroke="#111" stroke-width="1.6" />
<line x1="47.6" y1="417.5" x2="52.6" y2="417.5" stroke="#111" stroke-width="1.6" />
<line x1="47.3" y1="462.8" x2="59.3" y2="462.8" stroke="#111" stroke-width="1.6" />
<line x1="46.5" y1="554" x2="57.5" y2="554" stroke="#111" stroke-width="1.6" />
<line x1="46.9" y1="508.4" x2="49.9" y2="508.4" stroke="#111" stroke-width="1.6" />
<line x1="50.6" y1="54.5" x2="53.6" y2="54.5" stroke="#111" stroke-width="1.6" />
<line x1="512.9" y1="102" x2="500.9" y2="102" stroke="#111" stroke-width="1.6" />
<line x1="512.6" y1="147.25" x2="507.6" y2="147.25" stroke="#111" stroke-width="1.6" />
<line x1="512.3" y1="192.5" x2="500.3" y2="192.5" stroke="#111" stroke-width="1.6" />
<line x1="512" y1="238" x2="506" y2="238" stroke="#111" stroke-width="1.6" />
<path d="M113,360 L115.1,362 L128.1,343.3 L142.5,327.4 L156.9,315.9 L171.3,311 L185.8,310.1 L197.3,311.5 L203.1,311.5 L211.7,320.2 L220.4,328.8 L229,337.5 L237.7,346.1 L240.4,353 L248,365.4 L255.8,379.2 L263.5,394.6 L271.2,410 L277.1,420 L292.5,458.5 L303,497 L310.5,519 L309.5,519.5 L300.2,497 L286.7,458.5 L269.4,420 L263.5,414.6 L255.8,400.8 L248,388.5 L240.4,374.6 L232.7,365.4 L225,359.2 L214.6,349 L203.1,347.6 L191.5,349 L177.1,354.8 L162.7,363.5 L148.3,377.9 L136.7,386.5 L124,374 Z" fill="url(#hatch)"/>
<path d="M131,377.9 L148.3,360.6 L162.7,346.1 L174.2,331.7 L182.9,321.6 L191.5,314.4 L200.2,311.5 L203.1,311.5 L211.7,320.2 L220.4,328.8 L229,337.5 L237.7,346.1 L240.4,353 L236,358 L226.1,353.4 L214.6,349 L203.1,347.6 L191.5,349 L177.1,354.8 L162.7,363.5 L148.3,377.9 L136.7,386.5 L128,382 Z" fill="url(#blk)"/>
<path d="M134,384 L136.7,386.5 L148.3,377.9 L162.7,363.5 L177.1,354.8 L191.5,349 L203.1,347.6 L214.6,349 L226.1,353.4 L217.5,356.2 L208.8,362 L197.3,372.1 L185.8,383.6 L171.3,395.2 L156.9,406.7 L151.2,409.6 L150,412 Z" fill="url(#stip)"/>
<path d="M200,308.5 L214.6,308.7 L226,312 L237.7,317.7 L247.7,327.7 L253,334.6 L259.2,340.8 L265,350 L274,361 L282,376 L293,392 L302,407 L308.8,420 L325.2,458.5 L339.6,497 L353,525.8 L348,529.5 L338,528 L330,525.8 L321.3,497 L308.8,458.5 L293.5,420 L286.5,407 L268,376 L252.7,360.8 L246,352 L239,345 L237.7,346.1 L229,337.5 L220.4,328.8 L211.7,320.2 L203.1,311.5 Z" fill="url(#stip)"/>
<path d="M50.5,42.6 C54.67,48.83 67,67.85 75.5,80 C84,92.15 92.42,102.67 101.5,115.5 C110.58,128.33 121.92,145.08 130,157 C138.08,168.92 144.67,179.25 150,187 C155.33,194.75 158.17,197.92 162,203.5 C165.83,209.08 169.1,214.87 173,220.5 C176.9,226.13 180.77,231.72 185.4,237.3 C190.03,242.88 195.67,249.18 200.8,254 C205.93,258.82 211.08,262.37 216.2,266.2 C221.32,270.03 226.38,273.42 231.5,277 C236.62,280.58 242.15,284.7 246.9,287.7 C251.65,290.7 255.45,292.95 260,295 C264.55,297.05 269.2,298.63 274.2,300 C279.2,301.37 285.12,302.33 290,303.2 C294.88,304.07 299.47,304.65 303.5,305.2 C307.53,305.75 310.85,305.38 314.2,306.5 C317.55,307.62 320.45,309.88 323.6,311.9 C326.75,313.92 329.73,315.9 333.1,318.6 C336.47,321.3 340.43,325.18 343.8,328.1 C347.17,331.02 349.77,333.03 353.3,336.1 C356.83,339.17 358.88,340.85 365,346.5 C371.12,352.15 381.67,361.75 390,370 C398.33,378.25 406.67,387.67 415,396 C423.33,404.33 435.83,416 440,420" fill="none" stroke="#111" stroke-width="4.2" stroke-linecap="butt" />
<path d="M440,420 C445,424.83 461.67,441.33 470,449 C478.33,456.67 483.43,460.38 490,466 C496.57,471.62 506.17,479.92 509.4,482.7" fill="none" stroke="#111" stroke-width="1.8" stroke-linecap="butt" />
<path d="M49.2,268.7 C52.33,273.58 61.97,288.53 68,298 C74.03,307.47 80.07,317.33 85.4,325.5 C90.73,333.67 94.37,339.08 100,347 C105.63,354.92 112.78,364.5 119.2,373 C125.62,381.5 132.08,390.03 138.5,398 C144.92,405.97 151.62,413.8 157.7,420.8 C163.78,427.8 168.78,433.13 175,440 C181.22,446.87 188.33,455 195,462 C201.67,469 208.83,476.17 215,482 C221.17,487.83 225.33,491.67 232,497 C238.67,502.33 247,508.33 255,514 C263,519.67 271.67,526 280,531 C288.33,536 296.67,540.08 305,544 C313.33,547.92 320.83,551 330,554.5 C339.17,558 350,561.58 360,565 C370,568.42 378.33,571.17 390,575 C401.67,578.83 417.08,583.83 430,588 C442.92,592.17 461.25,598 467.5,600" fill="none" stroke="#111" stroke-width="4.2" stroke-linecap="butt" />
<path d="M50,187.5 C54.17,181.58 67.5,162.35 75,152 C82.5,141.65 90.52,131.48 95,125.4 C99.48,119.32 98.82,118.97 101.9,115.5 C104.98,112.03 109.65,107.07 113.5,104.6 C117.35,102.13 121.35,101.55 125,100.7 C128.65,99.85 131.55,99.42 135.4,99.5 C139.25,99.58 144.07,99.97 148.1,101.2 C152.13,102.43 157.68,105.95 159.6,106.9" fill="none" stroke="#111" stroke-width="1.9" stroke-linecap="butt" />
<path d="M159.6,106.9 C161.13,108.25 166.1,111.92 168.8,115 C171.5,118.08 173.48,121.17 175.8,125.4 C178.12,129.63 180.4,134.83 182.7,140.4 C185,145.97 187.3,152.65 189.6,158.8 C191.9,164.95 194.18,171.13 196.5,177.3 C198.82,183.47 201.58,190.68 203.5,195.8 C205.42,200.92 205.92,201.97 208,208 C210.08,214.03 213.67,224.67 216,232 C218.33,239.33 219.83,245 222,252 C224.17,259 227.83,270.33 229,274" fill="none" stroke="#111" stroke-width="1.8" stroke-linecap="butt" stroke-dasharray="3 1.4" />
<path d="M183,236 C185.83,240.33 194.5,253.67 200,262 C205.5,270.33 210.5,277.83 216,286 C221.5,294.17 230.17,306.83 233,311" fill="none" stroke="#111" stroke-width="1.4" stroke-linecap="butt" />
<path d="M121.9,309 C124.78,306.42 134.58,297.97 139.2,293.5 C143.82,289.03 146.13,285.38 149.6,282.2 C153.07,279.02 156.25,277.43 160,274.4 C163.75,271.37 168.63,266.73 172.1,264 C175.57,261.27 177.92,259.38 180.8,258 C183.68,256.62 186.87,256 189.4,255.7 C191.93,255.4 193.73,255.73 196,256.2 C198.27,256.67 200.92,257.62 203,258.5 C205.08,259.38 206.3,260 208.5,261.5 C210.7,263 212.37,264.67 216.2,267.5 C220.03,270.33 226.9,274.88 231.5,278.5 C236.1,282.12 240.72,286.38 243.8,289.2 C246.88,292.02 247.63,293.1 250,295.4 C252.37,297.7 254.67,299.4 258,303 C261.33,306.6 265.05,310.45 270,317 C274.95,323.55 280.9,332.97 287.7,342.3 C294.5,351.63 304.38,364.02 310.8,373 C317.22,381.98 320.63,387.67 326.2,396.2 C331.77,404.73 338.95,416.32 344.2,424.2 C349.45,432.08 352.23,435.45 357.7,443.5 C363.17,451.55 373.78,467.67 377,472.5" fill="none" stroke="#111" stroke-width="2.0" stroke-linecap="butt" stroke-dasharray="6 3" />
<path d="M316.9,305.2 C321.17,304.75 331.98,302.95 342.5,302.5 C353.02,302.05 367.92,301.88 380,302.5 C392.08,303.12 407.08,305 415,306.25 C422.92,307.5 422.92,308.12 427.5,310 C432.08,311.88 440,316.25 442.5,317.5" fill="none" stroke="#111" stroke-width="1.8" stroke-linecap="butt" stroke-dasharray="12 4" />
<path d="M425,642 C428.67,638.67 440,628.5 447,622 C454,615.5 460.33,609.67 467,603 C473.67,596.33 480.5,589.17 487,582 C493.5,574.83 502.83,563.67 506,560" fill="none" stroke="#111" stroke-width="1.8" stroke-linecap="butt" stroke-dasharray="6 4" />
<path d="M233,327.7 C235,326.08 241.67,320.7 245,318 C248.33,315.3 250.37,313.17 253,311.5 C255.63,309.83 258.22,309.28 260.8,308 C263.38,306.72 265.3,304.97 268.5,303.8 C271.7,302.63 276.08,301.13 280,301 C283.92,300.87 290,302.67 292,303" fill="none" stroke="#111" stroke-width="2.0" stroke-linecap="butt" />
<path d="M241.5,357.7 C243.42,356.25 248.5,351.57 253,349 C257.5,346.43 262.72,343.73 268.5,342.3 C274.28,340.87 281.87,340.53 287.7,340.4 C293.53,340.27 298.63,340.42 303.5,341.5 C308.37,342.58 312.87,344.95 316.9,346.9 C320.93,348.85 324.52,351.25 327.7,353.2 C330.88,355.15 332.5,355.8 336,358.6 C339.5,361.4 343.87,365.65 348.7,370 C353.53,374.35 359.78,380 365,384.7 C370.22,389.4 375.62,394.25 380,398.2 C384.38,402.15 388.5,405.75 391.3,408.4 C394.1,411.05 393.68,410.92 396.8,414.1 C399.92,417.28 404.47,422.35 410,427.5 C415.53,432.65 423.5,439.42 430,445 C436.5,450.58 442.33,455.33 449,461 C455.67,466.67 463.17,473.17 470,479 C476.83,484.83 483.43,490.33 490,496 C496.57,501.67 506.17,510.17 509.4,513" fill="none" stroke="#111" stroke-width="2.0" stroke-linecap="butt" />
<path d="M244.4,384.6 C246.8,383 253.2,377.57 258.8,375 C264.4,372.43 271.58,370.23 278,369.2 C284.42,368.17 290.88,368 297.3,368.8 C303.72,369.6 311.38,371.88 316.5,374 C321.62,376.12 324.08,378.97 328,381.5 C331.92,384.03 336,386.28 340,389.2 C344,392.12 348.12,395.8 352,399 C355.88,402.2 359.13,404.73 363.3,408.4 C367.47,412.07 372.33,416.62 377,421 C381.67,425.38 388.08,431.57 391.3,434.7 C394.52,437.83 389.85,434.08 396.3,439.8 C402.75,445.52 420.22,460.3 430,469 C439.78,477.7 447.5,485.17 455,492 C462.5,498.83 471.67,507 475,510" fill="none" stroke="#111" stroke-width="2.0" stroke-linecap="butt" />
<path d="M475,510 C477.5,512 485.83,518.67 490,522 C494.17,525.33 496.77,528.05 500,530 C503.23,531.95 507.83,533.08 509.4,533.7" fill="none" stroke="#111" stroke-width="1.9" stroke-linecap="butt" stroke-dasharray="2.2 0.6" />
<path d="M252,415 C254.17,413.83 259.92,409.88 265,408 C270.08,406.12 276.67,404.75 282.5,403.75 C288.33,402.75 293.88,401.79 300,402 C306.12,402.21 312.78,402.73 319.2,405 C325.62,407.27 332.73,410.8 338.5,415.6 C344.27,420.4 349,428.2 353.8,433.8 C358.6,439.4 361.52,443.42 367.3,449.2 C373.08,454.98 383.75,464.4 388.5,468.5 C393.25,472.6 388.88,467.97 395.8,473.8 C402.72,479.63 420.97,495.47 430,503.5 C439.03,511.53 443.33,516.08 450,522 C456.67,527.92 466.67,536.17 470,539" fill="none" stroke="#111" stroke-width="2.0" stroke-linecap="butt" />
<path d="M470,539 C473,540.83 482.7,547.42 488,550 C493.3,552.58 498.23,554.07 501.8,554.5 C505.37,554.93 508.13,552.92 509.4,552.6" fill="none" stroke="#111" stroke-width="1.9" stroke-linecap="butt" stroke-dasharray="2.2 0.6" />
<path d="M256,437 C258.33,435.83 264.4,432.35 270,430 C275.6,427.65 283.45,424.08 289.6,422.9 C295.75,421.72 301.45,421.78 306.9,422.9 C312.35,424.02 316.53,425.92 322.3,429.6 C328.07,433.28 336.05,440.52 341.5,445 C346.95,449.48 351.33,453.42 355,456.5 C358.67,459.58 359.2,459.58 363.5,463.5 C367.8,467.42 375.38,474.93 380.8,480 C386.22,485.07 387.8,486.73 396,493.9 C404.2,501.07 421,514.98 430,523 C439,531.02 446.67,538.83 450,542" fill="none" stroke="#111" stroke-width="2.0" stroke-linecap="butt" />
<path d="M450,542 C453.33,544.5 464.17,553.33 470,557 C475.83,560.67 480.83,562.83 485,564 C489.17,565.17 490.93,565.08 495,564 C499.07,562.92 507,558.58 509.4,557.5" fill="none" stroke="#111" stroke-width="1.9" stroke-linecap="butt" stroke-dasharray="2.2 0.6" />
<path d="M265.6,474.8 C267.67,473.52 273.68,469.5 278,467.1 C282.32,464.7 286.68,461.52 291.5,460.4 C296.32,459.28 302.08,459.43 306.9,460.4 C311.72,461.37 315.58,463.32 320.4,466.2 C325.22,469.08 330.67,473.22 335.8,477.7 C340.93,482.18 343.83,487.05 351.2,493.1 C358.57,499.15 372.65,507.75 380,514 C387.35,520.25 389.47,525.27 395.3,530.6 C401.13,535.93 409.22,541.1 415,546 C420.78,550.9 425,555.33 430,560 C435,564.67 442.5,571.67 445,574" fill="none" stroke="#111" stroke-width="2.0" stroke-linecap="butt" />
<path d="M445,574 C447.5,575.33 455.5,580.33 460,582 C464.5,583.67 467.83,584.33 472,584 C476.17,583.67 480.67,582.08 485,580 C489.33,577.92 493.93,574.83 498,571.5 C502.07,568.17 507.5,561.92 509.4,560" fill="none" stroke="#111" stroke-width="1.9" stroke-linecap="butt" stroke-dasharray="2.2 0.6" />
<circle cx="396.8" cy="414.1" r="6" fill="#fff" stroke="#111" stroke-width="2.1"/>
<text x="396.8" y="417" font-size="8.2" text-anchor="middle">8</text>
<circle cx="396.3" cy="439.8" r="6" fill="#fff" stroke="#111" stroke-width="2.1"/>
<text x="396.3" y="442.7" font-size="8.2" text-anchor="middle">5</text>
<circle cx="395.8" cy="473.8" r="6" fill="#fff" stroke="#111" stroke-width="2.1"/>
<text x="395.8" y="476.7" font-size="8.2" text-anchor="middle">3</text>
<circle cx="396" cy="493.9" r="6" fill="#fff" stroke="#111" stroke-width="2.1"/>
<text x="396" y="496.8" font-size="8.2" text-anchor="middle">2</text>
<circle cx="395.3" cy="530.6" r="6" fill="#fff" stroke="#111" stroke-width="2.1"/>
<text x="395.3" y="533.5" font-size="8.2" text-anchor="middle">1</text>
<line x1="58" y1="45.5" x2="107.5" y2="45.5" stroke="#111" stroke-width="3.0" />
<path d="M52.5,45.5 L60,42.3 L60,48.7 Z" fill="#111"/>
<line x1="195" y1="46.25" x2="229" y2="46.25" stroke="#111" stroke-width="3.0" />
<path d="M235,46.25 L227.5,43.05 L227.5,49.45 Z" fill="#111"/>
<text x="116.5" y="44.9" font-size="8.72" textLength="71" lengthAdjust="spacingAndGlyphs" >EARTHQUAKES</text>
<text x="110.5" y="54.3" font-size="9.59" textLength="82" lengthAdjust="spacingAndGlyphs" >AND EXPLOSIONS</text>
<path d="M123.5,60.75 L130.5,57.75 L130.5,63.75 Z" fill="#111"/>
<circle cx="132" cy="60.75" r="1.6" fill="#111"/>
<circle cx="136.3" cy="60.75" r="1.6" fill="#111"/>
<circle cx="140.3" cy="60.75" r="1.6" fill="#111"/>
<line x1="142.5" y1="60.75" x2="245" y2="60.75" stroke="#111" stroke-width="3" />
<text x="250.5" y="63.75" font-size="9.81" textLength="49.5" lengthAdjust="spacingAndGlyphs" >BIOLOGICS</text>
<line x1="303.5" y1="60.8" x2="512.5" y2="61.9" stroke="#111" stroke-width="3.6" />
<line x1="226" y1="71.25" x2="302.5" y2="71.25" stroke="#111" stroke-width="3.0" />
<path d="M221,71.25 L228.5,68.05 L228.5,74.45 Z" fill="#111"/>
<text x="306.5" y="74.8" font-size="9.59" textLength="74.75" lengthAdjust="spacingAndGlyphs" >PRECIPITATION</text>
<line x1="383.75" y1="72" x2="456" y2="72" stroke="#111" stroke-width="3.0" />
<path d="M462,72 L454.5,68.8 L454.5,75.2 Z" fill="#111"/>
<line x1="148" y1="84.25" x2="191" y2="84.25" stroke="#111" stroke-width="3.0" />
<path d="M142,84.25 L149.5,81.05 L149.5,87.45 Z" fill="#111"/>
<text x="195.5" y="86.6" font-size="9.16" textLength="30.5" lengthAdjust="spacingAndGlyphs" >SHIPS,</text>
<text x="240.5" y="86.6" font-size="9.88" textLength="57" lengthAdjust="spacingAndGlyphs" >INDUSTRIAL</text>
<text x="307.5" y="86.6" font-size="9.88" textLength="43" lengthAdjust="spacingAndGlyphs" >ACTIVITY</text>
<line x1="353.75" y1="84.25" x2="413" y2="84.25" stroke="#111" stroke-width="3.0" />
<path d="M419,84.25 L411.5,81.05 L411.5,87.45 Z" fill="#111"/>
<line x1="147.5" y1="92.6" x2="356" y2="92.6" stroke="#111" stroke-width="3.0" />
<path d="M141.5,92.6 L149,89.4 L149,95.8 Z" fill="#111"/>
<text x="360.6" y="96.3" font-size="9.45" textLength="17.9" lengthAdjust="spacingAndGlyphs" >SEA</text>
<text x="385.6" y="96.3" font-size="9.45" textLength="14.9" lengthAdjust="spacingAndGlyphs" >ICE</text>
<line x1="403.5" y1="92.7" x2="417.3" y2="92.7" stroke="#111" stroke-width="3.0" />
<circle cx="420.5" cy="92.7" r="1.3" fill="#111"/>
<circle cx="424.3" cy="92.7" r="1.3" fill="#111"/>
<path d="M435,92.7 L428,89.95 L428,95.45 Z" fill="#111"/>
<line x1="426.5" y1="92.7" x2="429" y2="92.7" stroke="#111" stroke-width="3.0" />
<text x="75.5" y="31.6" font-size="10.17" textLength="83.25" lengthAdjust="spacingAndGlyphs" >INTERMITTENT</text>
<text x="168.5" y="32.3" font-size="10.17" textLength="21.9" lengthAdjust="spacingAndGlyphs" >AND</text>
<text x="199.3" y="32.3" font-size="10.17" textLength="35.3" lengthAdjust="spacingAndGlyphs" >LOCAL</text>
<text x="245.5" y="32.4" font-size="10.17" textLength="49" lengthAdjust="spacingAndGlyphs" >EFFECTS</text>
<text x="342" y="118.75" font-size="12.72" textLength="25" lengthAdjust="spacingAndGlyphs" >KEY</text>
<line x1="240.5" y1="125.5" x2="276.25" y2="125.5" stroke="#111" stroke-width="3.2" />
<line x1="240.5" y1="140" x2="276.25" y2="140" stroke="#111" stroke-width="1.7" />
<circle cx="263.75" cy="161.25" r="0.7" fill="#888"/>
<line x1="240.5" y1="181.3" x2="276.25" y2="181.3" stroke="#111" stroke-width="2.0" stroke-dasharray="16.5 2.5"/>
<line x1="240.5" y1="196.25" x2="276.25" y2="196.25" stroke="#111" stroke-width="1.8" stroke-dasharray="4 3"/>
<rect x="240.5" y="204" width="35.75" height="7" fill="url(#stip)" opacity="0.8"/>
<rect x="240.5" y="216.3" width="35.75" height="7.4" fill="url(#hatch)" opacity="0.85"/>
<line x1="240.5" y1="235.6" x2="276.25" y2="235.6" stroke="#111" stroke-width="2.0" stroke-dasharray="7 6.3"/>
<line x1="240.5" y1="254.25" x2="276.25" y2="254.25" stroke="#111" stroke-width="1.8" stroke-dasharray="3.5 1.4 1.4 1.4"/>
<line x1="240.5" y1="272.6" x2="276.25" y2="272.6" stroke="#111" stroke-width="2.2" stroke-dasharray="1.6 0.9"/>
<text x="281.5" y="129.5" font-size="9.08" textLength="146.5" lengthAdjust="spacingAndGlyphs" >LIMITS OF PREVAILING NOISE</text>
<text x="282.5" y="144.2" font-size="9.3" textLength="215" lengthAdjust="spacingAndGlyphs" >WIND-DEPENDENT BUBBLE AND SPRAY NOISE</text>
<text x="282.5" y="160" font-size="9.08" textLength="198" lengthAdjust="spacingAndGlyphs" transform="rotate(0.35 282.5 160)" >LOW-FREQUENCY VERY-SHALLOW-WATER</text>
<text x="282.5" y="170" font-size="9.08" textLength="91.25" lengthAdjust="spacingAndGlyphs" transform="rotate(0.35 282.5 170)" >WIND DEPENDENCE</text>
<text x="282.5" y="184.5" font-size="9.08" textLength="102.5" lengthAdjust="spacingAndGlyphs" transform="rotate(0.35 282.5 184.5)" >HEAVY PRECIPITATION</text>
<text x="282.5" y="199.5" font-size="9.45" textLength="109.25" lengthAdjust="spacingAndGlyphs" transform="rotate(0.35 282.5 199.5)" >HEAVY TRAFFIC NOISE</text>
<text x="282" y="211" font-size="8.72" textLength="207.5" lengthAdjust="spacingAndGlyphs" transform="rotate(0.5 282 211)" >USUAL TRAFFIC NOISE - SHALLOW WATER</text>
<text x="282" y="224.1" font-size="9.16" textLength="188" lengthAdjust="spacingAndGlyphs" transform="rotate(0.5 282 224.1)" >USUAL TRAFFIC NOISE - DEEP WATER</text>
<text x="282.5" y="238.75" font-size="8.36" textLength="78.75" lengthAdjust="spacingAndGlyphs" transform="rotate(0.35 282.5 238.75)" >THERMAL NOISE</text>
<text x="282.5" y="253" font-size="7.99" textLength="179.5" lengthAdjust="spacingAndGlyphs" transform="rotate(0.35 282.5 253)" >GENERAL PATTERN OF NOISE FROM</text>
<text x="282.5" y="261.75" font-size="9.08" textLength="164.5" lengthAdjust="spacingAndGlyphs" transform="rotate(0.35 282.5 261.75)" >EARTHQUAKES AND EXPLOSIONS</text>
<text x="282.5" y="275" font-size="8.72" textLength="75.5" lengthAdjust="spacingAndGlyphs" transform="rotate(0.35 282.5 275)" >EXTRAPOLATIONS</text>
<text x="363.5" y="329.5" font-size="9.01" textLength="60.25" lengthAdjust="spacingAndGlyphs" >WIND FORCE</text>
<text x="363" y="339.5" font-size="9.45" textLength="60.75" lengthAdjust="spacingAndGlyphs" >(BEAUFORT)</text>
<line x1="397.5" y1="345" x2="397.5" y2="361" stroke="#111" stroke-width="2.4" />
<path d="M397.5,367.5 L394.5,360.5 L400.5,360.5 Z" fill="#111"/>
<text x="77.8" y="517.2" font-size="11.92" textLength="68.2" lengthAdjust="spacingAndGlyphs" >PREVAILING</text>
<text x="155.5" y="517.4" font-size="11.77" textLength="41.5" lengthAdjust="spacingAndGlyphs" >NOISES</text>
<text x="78" y="534" font-size="9.74" textLength="112" lengthAdjust="spacingAndGlyphs" >TURBULENT-PRESSURE</text>
<text x="97.5" y="546" font-size="9.88" textLength="72.5" lengthAdjust="spacingAndGlyphs" >FLUCTUATIONS</text>
<line x1="47.5" y1="541" x2="97.5" y2="541" stroke="#111" stroke-width="3" />
<line x1="172.5" y1="542.5" x2="226" y2="542.5" stroke="#111" stroke-width="3.0" />
<path d="M232.5,542.5 L225,539.3 L225,545.7 Z" fill="#111"/>
<line x1="150" y1="572.5" x2="183.75" y2="572.5" stroke="#111" stroke-width="3" />
<path d="M144.5,572.5 L152,569.3 L152,575.7 Z" fill="#111"/>
<text x="185.5" y="576.3" font-size="9.88" textLength="41" lengthAdjust="spacingAndGlyphs" >OCEANIC</text>
<text x="236.25" y="576.8" font-size="9.45" textLength="40" lengthAdjust="spacingAndGlyphs" >TRAFFIC</text>
<line x1="276.5" y1="573.75" x2="320" y2="573.75" stroke="#111" stroke-width="3" />
<path d="M326.25,573.75 L318.75,570.55 L318.75,576.95 Z" fill="#111"/>
<line x1="47" y1="600.2" x2="133" y2="600.2" stroke="#111" stroke-width="2" />
<path d="M138.75,600.2 L132.75,597.7 L132.75,602.7 Z" fill="#111"/>
<line x1="96.25" y1="600" x2="96.25" y2="609.5" stroke="#111" stroke-width="1.8" />
<path d="M51.5,619.5 L51.5,609.3 L317,611 L317,623.75" fill="none" stroke="#111" stroke-width="2.5"/>
<text x="54.5" y="619.3" font-size="9.88" textLength="259.25" lengthAdjust="spacingAndGlyphs" transform="rotate(0.65 54.5 619.3)" >SURFACE WAVES--SECOND-ORDER PRESSURE EFFECTS</text>
<line x1="47" y1="627" x2="58.75" y2="627" stroke="#111" stroke-width="2" />
<text x="60" y="630.5" font-size="9.81" textLength="118.75" lengthAdjust="spacingAndGlyphs" >(SEISMIC BACKGROUND)</text>
<line x1="180" y1="628" x2="227" y2="628" stroke="#111" stroke-width="2" />
<path d="M232.5,628 L226.5,625.5 L226.5,630.5 Z" fill="#111"/>
<line x1="237" y1="601.25" x2="275" y2="601.25" stroke="#111" stroke-width="3" />
<path d="M231.25,601.25 L238.75,598.05 L238.75,604.45 Z" fill="#111"/>
<text x="277.5" y="604.5" font-size="10.17" textLength="100" lengthAdjust="spacingAndGlyphs" >BUBBLES AND SPRAY</text>
<line x1="380" y1="602" x2="445" y2="602" stroke="#111" stroke-width="3" />
<path d="M451.25,602 L443.75,598.8 L443.75,605.2 Z" fill="#111"/>
<text x="334.5" y="615.5" font-size="10.54" textLength="100.5" lengthAdjust="spacingAndGlyphs" >(SURFACE AGITATION)</text>
<text x="450.8" y="627" font-size="9.45" textLength="55.8" lengthAdjust="spacingAndGlyphs" >MOLECULAR</text>
<text x="452" y="634.8" font-size="9.16" textLength="47" lengthAdjust="spacingAndGlyphs" >AGITATION</text>
<text x="25" y="14" font-size="11.92" textLength="21.25" lengthAdjust="spacingAndGlyphs" >I20</text>
<text x="23.75" y="103.3" font-size="12.06" textLength="21.25" lengthAdjust="spacingAndGlyphs" >I00</text>
<text x="26" y="195.2" font-size="12.21" textLength="15" lengthAdjust="spacingAndGlyphs" >80</text>
<text x="26.25" y="285.8" font-size="12.5" textLength="16.25" lengthAdjust="spacingAndGlyphs" >60</text>
<text x="23.75" y="376.3" font-size="12.35" textLength="18.75" lengthAdjust="spacingAndGlyphs" >40</text>
<text x="23.8" y="467" font-size="12.79" textLength="17.6" lengthAdjust="spacingAndGlyphs" >20</text>
<text x="32.6" y="558" font-size="12.06" textLength="8.2" lengthAdjust="spacingAndGlyphs" >0</text>
<text x="16.25" y="648.5" font-size="12.35" textLength="23.75" lengthAdjust="spacingAndGlyphs" >-20</text>
<circle cx="45" cy="653.3" r="1.3" fill="#111"/>
<text x="131" y="661" font-size="12.35" textLength="13" lengthAdjust="spacingAndGlyphs" >IO</text>
<text x="224.5" y="661" font-size="12.35" textLength="11.5" lengthAdjust="spacingAndGlyphs" >IO</text>
<text x="237" y="656.2" font-size="7.56" textLength="5" lengthAdjust="spacingAndGlyphs" >2</text>
<text x="317" y="662" font-size="12.35" textLength="12.5" lengthAdjust="spacingAndGlyphs" >IO</text>
<text x="330" y="657.2" font-size="7.56" textLength="5" lengthAdjust="spacingAndGlyphs" >3</text>
<text x="410.4" y="662.5" font-size="13.08" textLength="12.6" lengthAdjust="spacingAndGlyphs" >IO</text>
<text x="423.5" y="657.2" font-size="7.56" textLength="4.5" lengthAdjust="spacingAndGlyphs" >4</text>
<text x="501.5" y="662.8" font-size="13.52" textLength="13.1" lengthAdjust="spacingAndGlyphs" >IO</text>
<text x="515.4" y="657.2" font-size="7.56" textLength="5.1" lengthAdjust="spacingAndGlyphs" >5</text>
<text x="222.5" y="678" font-size="12.79" textLength="107.5" lengthAdjust="spacingAndGlyphs" >FREQUENCY-CPS</text>
<text transform="translate(15,558.2) rotate(-89.6)" x="0" y="0" font-size="13.08" textLength="237" lengthAdjust="spacingAndGlyphs" >SOUND PRESSURE SPECTRUM LEVEL</text>
<text transform="translate(16.6,290.5) rotate(-89.6)" x="0" y="0" font-size="12.5" textLength="178" lengthAdjust="spacingAndGlyphs" >(DB RE 0.0002 DYNE/CM<tspan font-size="6" dy="-2.5">2</tspan><tspan dy="2.5">)</tspan></text>
</svg>
</body></html>
